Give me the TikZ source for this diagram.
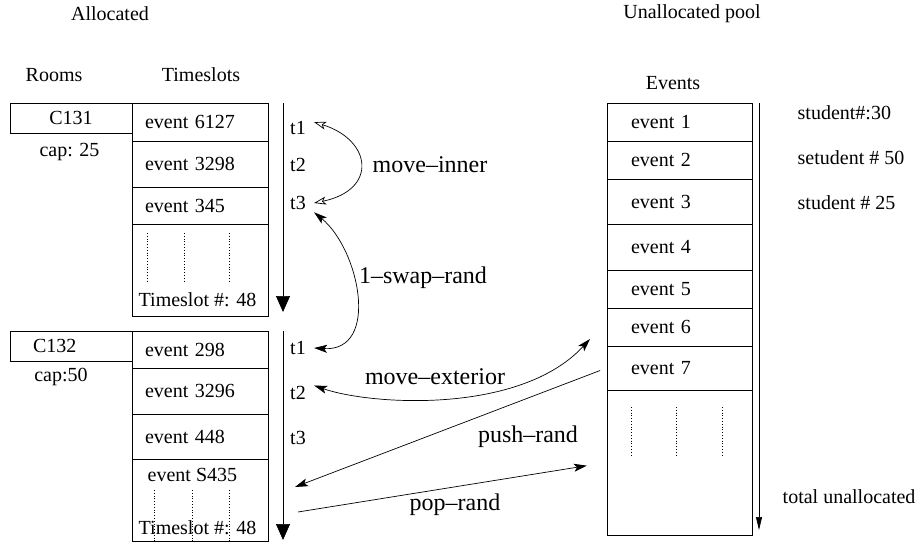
\documentclass[tikz,border=0pt]{standalone}
\usepackage{fontspec}
\setmainfont{Liberation Serif}
\usetikzlibrary{arrows.meta}

\newcommand{\figfont}{\fontsize{20}{24}\selectfont}
\newcommand{\opfont}{\fontsize{24}{28}\selectfont}

\begin{document}
\begin{tikzpicture}[x=1pt,y=-1pt,>={Stealth[length=13pt,width=8pt,inset=3pt]},line width=0.7pt,font=\figfont]

                \tikzset{cell/.style={draw, text width=110pt, inner xsep=13pt, inner ysep=0pt, align=left},
                         poolcell/.style={cell, text width=97pt, inner xsep=24pt},
                         roombox/.style={draw, minimum width=122pt, minimum height=30pt, inner sep=0pt},
                         slot/.style={inner sep=3.33pt, outer sep=5pt},
                         timeline/.style={-{Triangle[length=16pt,width=14pt]}},
                         pooltime/.style={-{Triangle[length=13pt,width=6pt]}},
                         oplabel/.style={font=\opfont},
                         dotfill/.style={dotted, line width=0.8pt}}

                \useasboundingbox (0,0) rectangle (918,543);

                % headings
                \node (alloc) at (110,14) {Allocated};
                \node (unalloc) at (692,14) {Unallocated pool};
                \node (rooms) at (54,75) {Rooms};
                \node (slots) at (201,75) {Timeslots};
                \node (events) at (673,83) {Events};

                % room C131
                \node[roombox] (c131) at (71,118) {C131};
                \node (cap131) at (69.5,152) {cap: 25};
                \node[cell, minimum height=38pt] (e6127) at (200,122) {event 6127};
                \node[cell, minimum height=46pt] (e3298) at (200,164) {event 3298};
                \node[cell, minimum height=37pt] (e345) at (200,205.5) {event 345};
                \node[cell, minimum height=92pt] (restA) at (200,270) {};
                \node (numA) at (197.5,300) {Timeslot \#: 48};
                \draw[dotfill] (147,233) -- (147,283);
                \draw[dotfill] (184,233) -- (184,283);
                \draw[dotfill] (229,233) -- (229,283);

                % room C132
                \node[roombox, text width=76pt, inner xsep=23pt, align=left] (c132) at (71,346) {C132};
                \node (cap132) at (61,377) {cap:50};
                \node[cell, minimum height=37pt] (e298) at (200,349.5) {event 298};
                \node[cell, minimum height=46pt] (e3296) at (200,391) {event 3296};
                \node[cell, minimum height=45pt] (e448) at (200,436.5) {event 448};
                \node[cell, minimum height=82pt] (restB) at (200,500) {};
                \node[anchor=west] (eS435) at (144,475) {event S435};
                \draw[dotfill] (154,490) -- (154,541);
                \draw[dotfill] (192,490) -- (192,541);
                \draw[dotfill] (229,490) -- (229,541);
                \node (numB) at (197.5,528) {Timeslot \#: 48};

                % time axes
                \coordinate (axA) at (283,103);
                \coordinate (axAend) at (283,312);
                \coordinate (axB) at (283,331);
                \coordinate (axBend) at (283,540);
                \draw[timeline] (axA) -- (axAend);
                \draw[timeline] (axB) -- (axBend);

                \node[slot] (t1a) at (298,128) {t1};
                \node[slot] (t2a) at (298,165) {t2};
                \node[slot] (t3a) at (298,203) {t3};
                \node[slot] (t1b) at (298,348) {t1};
                \node[slot] (t2b) at (298,393) {t2};
                \node[slot] (t3b) at (298,438) {t3};

                % unallocated pool
                \node[poolcell, minimum height=38pt] (ev1) at (679.5,122) {event 1};
                \node[poolcell, minimum height=38pt] (ev2) at (679.5,160) {event 2};
                \node[poolcell, minimum height=45pt] (ev3) at (679.5,201.5) {event 3};
                \node[poolcell, minimum height=46pt] (ev4) at (679.5,247) {event 4};
                \node[poolcell, minimum height=38pt] (ev5) at (679.5,289) {event 5};
                \node[poolcell, minimum height=38pt] (ev6) at (679.5,327) {event 6};
                \node[poolcell, minimum height=44pt] (ev7) at (679.5,368) {event 7};
                \node[poolcell, minimum height=145pt] (evrest) at (679.5,462.5) {};
                \draw[dotfill] (631,407) -- (631,457);
                \draw[dotfill] (676,407) -- (676,457);
                \draw[dotfill] (722,407) -- (722,457);

                \coordinate (axP) at (759,103);
                \coordinate (axPend) at (759,530);
                \draw[pooltime] (axP) -- (axPend);

                \node[anchor=west] (stud1) at (794,113) {student\#:30};
                \node[anchor=west] (stud2) at (794,158) {setudent \# 50};
                \node[anchor=west] (stud3) at (794,203) {student \# 25};
                \node[anchor=west] (total) at (779,497) {total unallocated};

                % moves
                \draw[{Stealth[open,length=12pt,width=8pt,inset=3pt]}-{Stealth[open,length=12pt,width=8pt,inset=3pt]}]
                    (t1a.20) .. controls (372,140) and (378,190) .. (t3a.east);
                \node[oplabel] (lblinner) at (430,165) {move–inner};

                \draw[<->] (t3a.-30) .. controls (360,250) and (380,352) .. (t1b.east);
                \node[oplabel] (lblswap) at (423,278) {1–swap–rand};

                \coordinate (extend) at (590,339);
                \draw[<->] (t2b.25) .. controls (370,405) and (520,415) .. (extend);
                \node[oplabel] (lblext) at (435,377) {move–exterior};

                \coordinate (pushend) at (295,487);
                \draw[->, shorten <=7pt] (ev7.west) -- (pushend);
                \node[oplabel] (lblpush) at (528,437) {push–rand};

                \coordinate (popstart) at (298,512);
                \draw[->, shorten >=20pt] (popstart) -- (evrest.west);
                \node[oplabel] (lblpop) at (455,505) {pop–rand};
            \end{tikzpicture}
\end{document}
